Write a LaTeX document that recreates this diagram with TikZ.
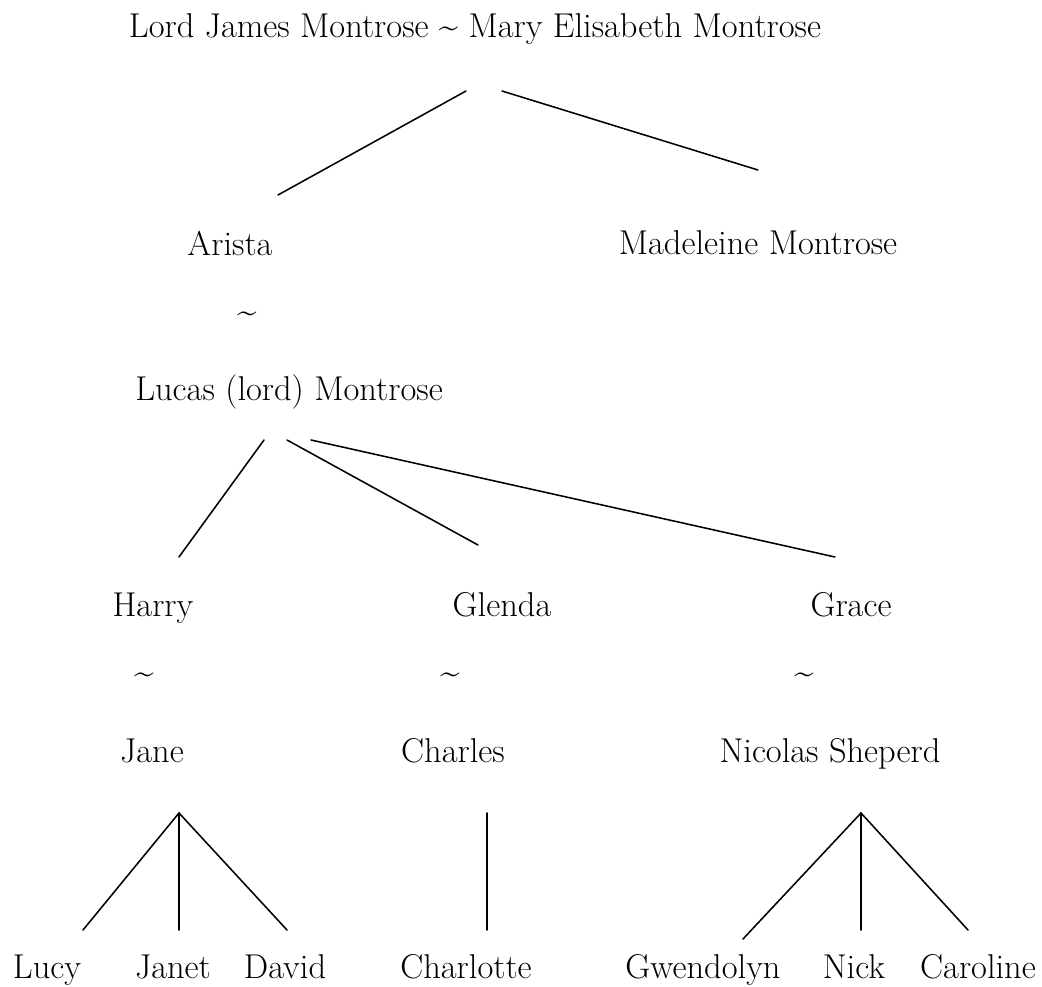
\documentclass[tikz,border=0pt]{standalone}
\usepackage{tikz}
\usetikzlibrary{positioning}
\tikzset{
  edge/.style={draw=black, line width=1.1pt, line cap=round},
  person/.style={text=black, font=\fontsize{24.5}{29}\selectfont, inner sep=0pt, anchor=base},
  wed/.style={text=black, font=\fontsize{24.5}{29}\selectfont, inner sep=0pt},
}
\begin{document}
\begin{tikzpicture}[x=0.025cm, y=-0.025cm]
\useasboundingbox (0,0) rectangle (1042,987);
% generation 1
\node[person] (lord) at (475,37) {Lord James Montrose \textasciitilde{} Mary Elisabeth Montrose};
\coordinate (l1a) at (466,91);
\coordinate (l1b) at (502,91);
\coordinate (arU) at (278,195);
\coordinate (maU) at (758,170);
\draw[edge] (l1a) -- (arU);
\draw[edge] (l1b) -- (maU);
% generation 2
\node[person] (arista) at (230,255) {Arista};
\node[person] (madel) at (758,254) {Madeleine Montrose};
\node[wed] (w1) at (247,317) {\textasciitilde};
\node[person] (lucas) at (289,400) {Lucas (lord) Montrose};
\coordinate (lu1) at (264,440);
\coordinate (lu2) at (287,440);
\coordinate (lu3) at (311,440);
\coordinate (haU) at (179,557);
\coordinate (glU) at (478,545);
\coordinate (grU) at (835,557);
\draw[edge] (lu1) -- (haU);
\draw[edge] (lu2) -- (glU);
\draw[edge] (lu3) -- (grU);
% generation 3
\node[person] (harry) at (153,616) {Harry};
\node[person] (glenda) at (502,616) {Glenda};
\node[person] (grace) at (851,616) {Grace};
\node[wed] (w2) at (144,678) {\textasciitilde};
\node[wed] (w3) at (450,678) {\textasciitilde};
\node[wed] (w4) at (804,678) {\textasciitilde};
\node[person] (jane) at (152,762) {Jane};
\node[person] (charles) at (453,762) {Charles};
\node[person] (nicolas) at (830,762) {Nicolas Sheperd};
\coordinate (ja) at (179,813);
\coordinate (ch) at (487,813);
\coordinate (ni) at (861,813);
\coordinate (lucyU) at (83,930);
\coordinate (janetU) at (179,930);
\coordinate (davidU) at (287,930);
\coordinate (charlU) at (487,930);
\coordinate (gwenU) at (743,939);
\coordinate (nickU) at (861,930);
\coordinate (caroU) at (968,930);
\foreach \c in {lucyU,janetU,davidU} \draw[edge] (ja) -- (\c);
\draw[edge] (ch) -- (charlU);
\foreach \c in {gwenU,nickU,caroU} \draw[edge] (ni) -- (\c);
% generation 4
\node[person] (lucy) at (47,978) {Lucy};
\node[person] (janet) at (173,978) {Janet};
\node[person] (david) at (285,978) {David};
\node[person] (charlotte) at (466,978) {Charlotte};
\node[person] (gwen) at (703,978) {Gwendolyn};
\node[person] (nick) at (854,978) {Nick};
\node[person] (caro) at (978,978) {Caroline};
\end{tikzpicture}
\end{document}
